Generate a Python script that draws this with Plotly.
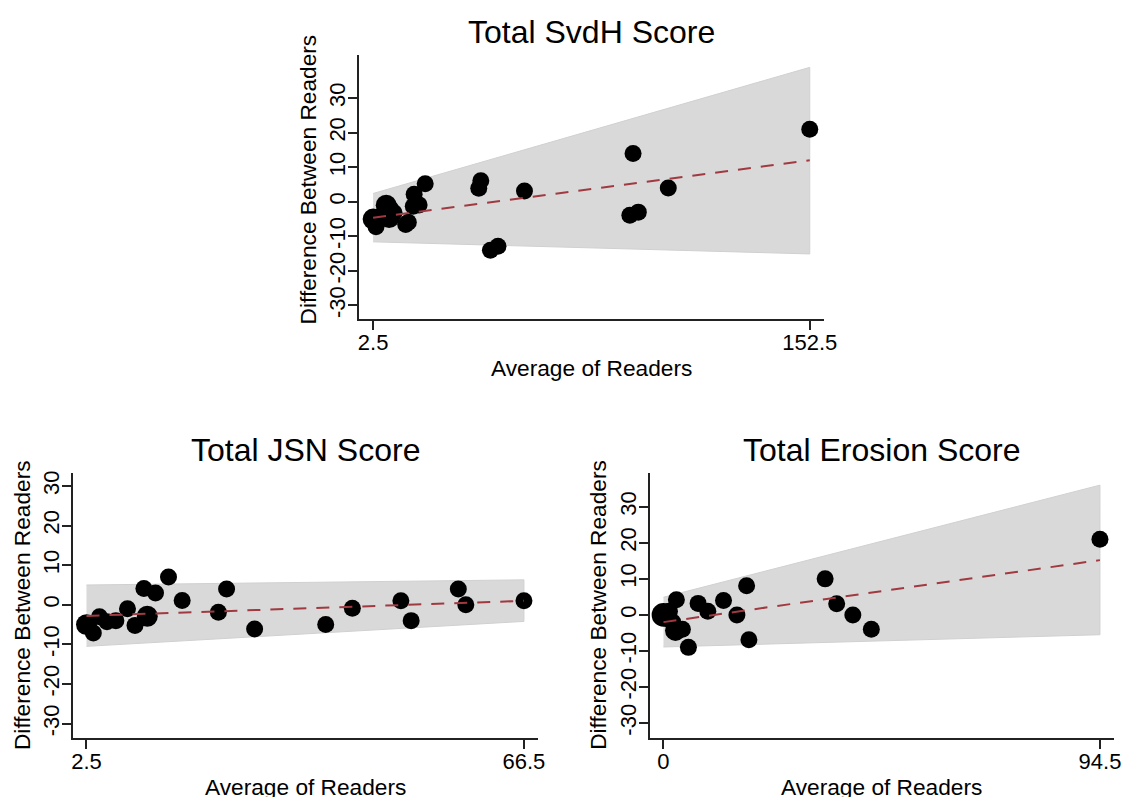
import plotly.graph_objects as go

# ---------------- data ----------------
svdh_x = [2.5, 3.5, 4.5, 6.0, 7.0, 8.5, 8.0, 9.7, 13.7, 14.6, 16.6, 16.3, 18.3, 20.4,
          38.8, 39.5, 42.8, 45.4, 54.5, 90.7, 91.8, 93.6, 103.9, 152.5]
svdh_y = [-5.0, -7.2, -4.4, -4.2, -1.0, -2.0, -4.6, -3.2, -6.6, -5.9, 2.2, -1.3, -0.9, 5.2,
          3.9, 6.1, -14.0, -12.9, 3.1, -3.9, 14.0, -3.0, 4.0, 21.0]
svdh_w = [2, 1, 1, 1, 2, 1, 2, 1, 1, 1, 1, 1, 1, 1, 1, 1, 1, 1, 1, 1, 1, 1, 1, 1]
svdh_band_x = [2.5, 152.5]
svdh_upper = [2.4, 38.9]
svdh_lower = [-11.6, -15.1]
svdh_fit = [-4.6, 12.0]

jsn_x = [2.5, 3.5, 4.4, 5.5, 6.8, 8.5, 9.6, 11.4, 10.9, 12.6, 14.5, 16.5, 21.8, 23.0,
         27.1, 37.5, 41.4, 48.5, 50.0, 56.9, 58.0, 66.5]
jsn_y = [-5.0, -7.1, -3.0, -4.3, -4.0, -1.0, -5.2, -2.9, 4.1, 3.0, 7.0, 1.1, -1.9, 4.0,
         -6.1, -5.0, -0.9, 1.0, -4.0, 4.0, 0.0, 1.0]
jsn_w = [2, 1, 1, 1, 1, 1, 1, 2, 1, 1, 1, 1, 1, 1, 1, 1, 1, 1, 1, 1, 1, 1]
jsn_band_x = [2.5, 66.5]
jsn_upper = [5.0, 6.3]
jsn_lower = [-10.5, -4.2]
jsn_fit = [-2.8, 1.0]

ero_x = [0.0, 0.8, 1.3, 2.0, 2.8, 2.6, 4.1, 5.4, 7.5, 9.6, 13.0, 15.9, 18.0, 18.5,
         35.0, 37.5, 41.0, 45.0, 94.5]
ero_y = [0.0, -1.0, 1.0, -2.0, 4.2, -4.3, -4.0, -9.0, 3.2, 1.0, 4.0, 0.0, 8.1, -6.9,
         10.0, 3.1, 0.0, -4.0, 21.0]
ero_w = [3, 1, 1, 1, 1, 2, 1, 1, 1, 1, 1, 1, 1, 1, 1, 1, 1, 1, 1]
ero_band_x = [0.0, 94.5]
ero_upper = [4.9, 36.0]
ero_lower = [-8.9, -5.5]
ero_fit = [-2.0, 15.2]

titles = ["Total SvdH Score", "Total JSN Score", "Total Erosion Score"]
x_title = "Average of Readers"
y_title = "Difference Between Readers"
y_ticks = [-30, -20, -10, 0, 10, 20, 30]
y_ticktext = ["-30", "-20", "-10", "0", "10", "20", "30"]

# ---------------- layout geometry ----------------
W, H = 1136, 797
FONT = "Liberation Sans, Arial, Helvetica, sans-serif"
AX = "#222222"

def px(x):
    return x / W

def py(y):
    return 1 - y / H

# plot boxes in pixels: left, right, top, bottom
boxes = [
    (362.3, 833.3, 52.7, 317.7),
    (72.7, 543.3, 471.7, 737.7),
    (656.7, 1126.7, 471.7, 737.7),
]
xranges = [[-2.4, 157.4], [0.5, 68.5], [-3.0, 97.5]]
yranges = [[-33.9, 42.6], [-33.6, 33.4], [-34.1, 39.5]]
xticks = [[2.5, 152.5], [2.5, 66.5], [0, 94.5]]
xticktext = [["2.5", "152.5"], ["2.5", "66.5"], ["0", "94.5"]]
title_y = [30, 449, 449]
ytitle_y = [178, None, None]

datasets = [
    (svdh_x, svdh_y, svdh_w, svdh_band_x, svdh_upper, svdh_lower, svdh_fit),
    (jsn_x, jsn_y, jsn_w, jsn_band_x, jsn_upper, jsn_lower, jsn_fit),
    (ero_x, ero_y, ero_w, ero_band_x, ero_upper, ero_lower, ero_fit),
]

fig = go.Figure()
annotations = []

for i, (dx, dy, dw, bx, bu, bl, bf) in enumerate(datasets):
    sfx = "" if i == 0 else str(i + 1)
    xa, ya = "x" + sfx, "y" + sfx
    # band
    fig.add_trace(go.Scatter(
        x=bx + bx[::-1], y=bu + bl[::-1], fill="toself", mode="lines",
        fillcolor="#d9d9d9", line=dict(color="#d0d0d0", width=1),
        xaxis=xa, yaxis=ya, showlegend=False, hoverinfo="skip"))
    # markers
    fig.add_trace(go.Scatter(
        x=dx, y=dy, mode="markers",
        marker=dict(color="black", opacity=1,
                    size=[17 * (w ** 0.3) for w in dw], line=dict(width=0)),
        xaxis=xa, yaxis=ya, showlegend=False))
    # fit line
    fig.add_trace(go.Scatter(
        x=bx, y=bf, mode="lines",
        line=dict(color="#a03a40", width=2, dash="13px,10px"),
        xaxis=xa, yaxis=ya, showlegend=False, hoverinfo="skip"))

    l, r, t, b = boxes[i]
    common = dict(showline=True, linecolor=AX, linewidth=1.5, ticks="outside",
                  ticklen=9, tickwidth=1.5, tickcolor=AX, showgrid=False,
                  zeroline=False, ticklabelstandoff=-6,
                  tickfont=dict(size=22, color="black", family=FONT))
    fig.update_layout(**{
        "xaxis" + sfx: dict(domain=[px(l), px(r)], range=xranges[i], anchor=ya,
                            tickmode="array", tickvals=xticks[i], ticktext=xticktext[i],
                            **common),
        "yaxis" + sfx: dict(domain=[py(b), py(t)], range=yranges[i], anchor=xa,
                            tickmode="array", tickvals=y_ticks, ticktext=y_ticktext,
                            tickangle=-90, **common),
    })
    cx = (l + r) / 2
    # plot title
    annotations.append(dict(text=titles[i], x=px(cx), y=py(title_y[i]),
                            xref="paper", yref="paper", showarrow=False,
                            xanchor="center", yanchor="middle",
                            font=dict(size=32, color="black", family=FONT)))
    # x-axis title
    annotations.append(dict(text=x_title, x=px(cx), y=py(b + 49),
                            xref="paper", yref="paper", showarrow=False,
                            xanchor="center", yanchor="middle",
                            font=dict(size=22.7, color="black", family=FONT)))
    # y-axis title
    yc = ytitle_y[i] if ytitle_y[i] is not None else (t + b) / 2
    annotations.append(dict(text=y_title, x=px(l - 51.6), y=py(yc),
                            xref="paper", yref="paper", showarrow=False, textangle=-90,
                            xanchor="center", yanchor="middle",
                            font=dict(size=22.7, color="black", family=FONT)))

fig.update_layout(
    width=W, height=H, margin=dict(l=0, r=0, t=0, b=0),
    paper_bgcolor="white", plot_bgcolor="white",
    font=dict(family=FONT, color="black"),
    annotations=annotations, showlegend=False,
)

fig.write_html("out.html")
